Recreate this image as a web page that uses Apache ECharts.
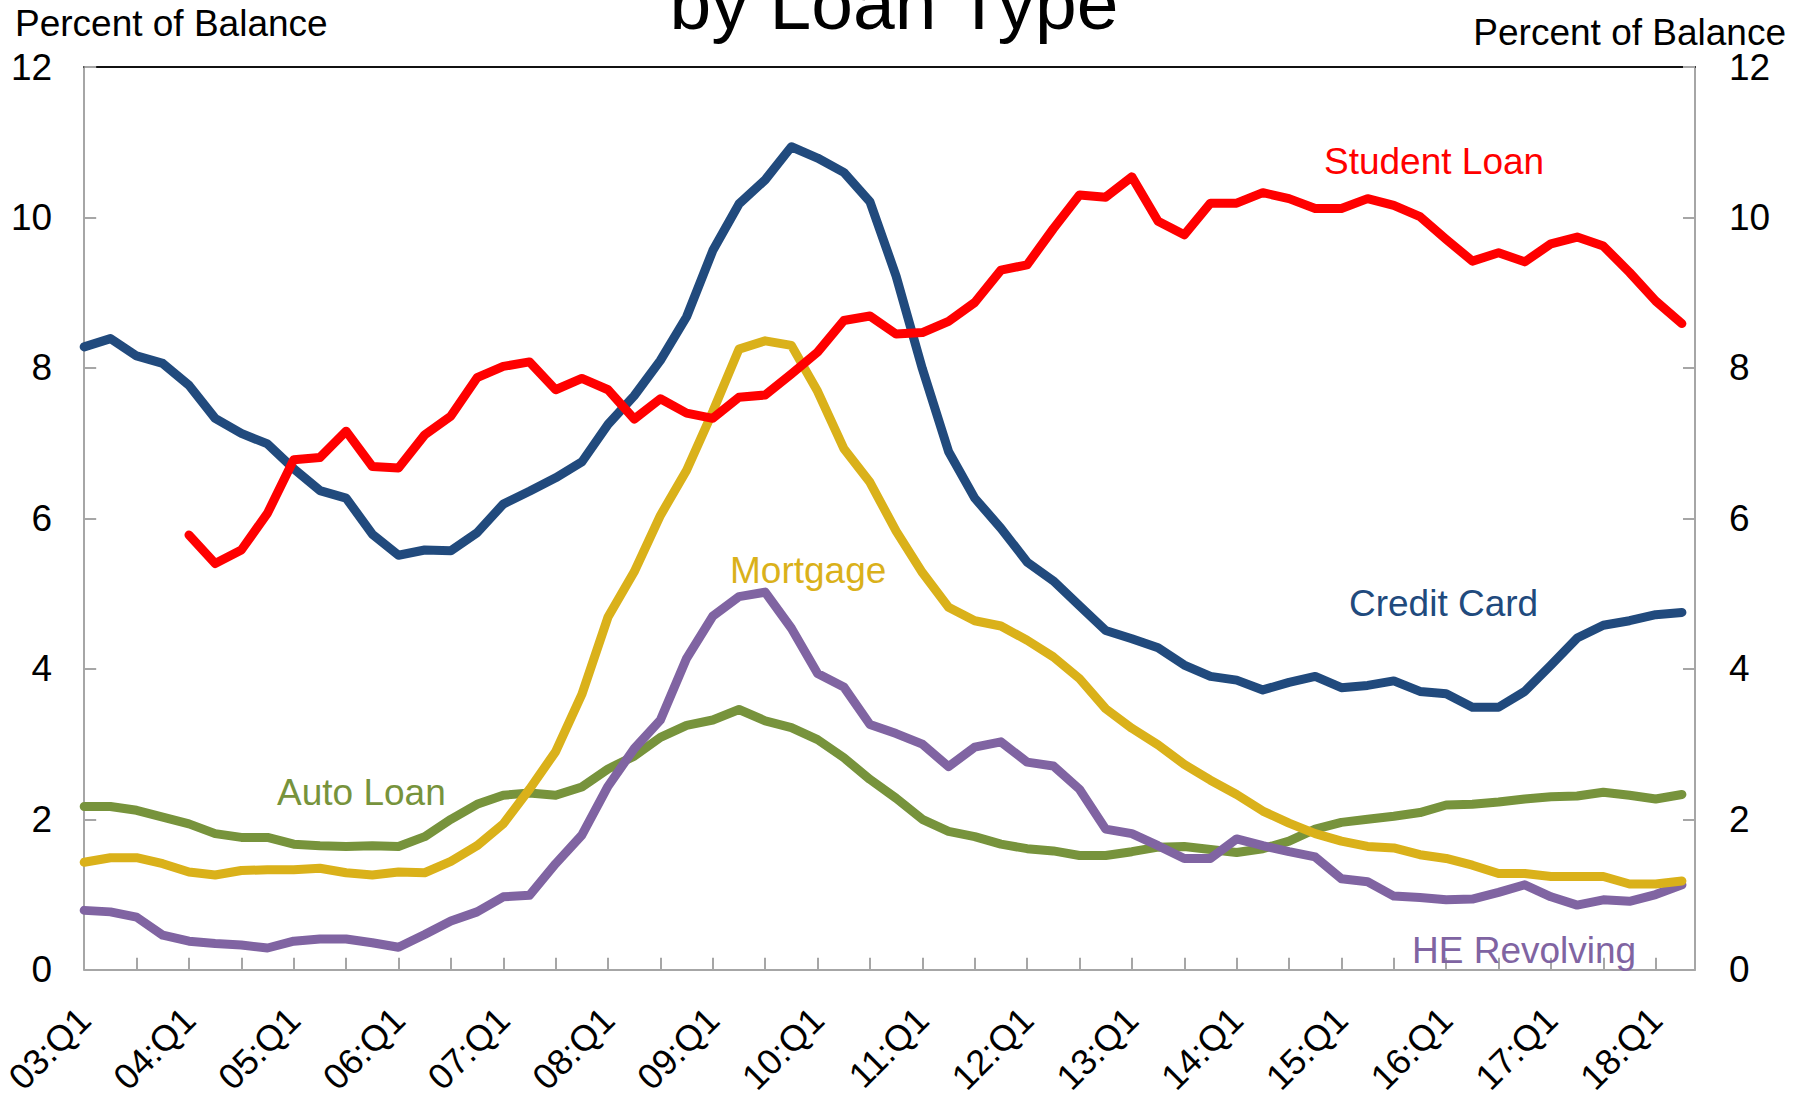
<!DOCTYPE html>
<html>
<head>
<meta charset="utf-8">
<script src="https://cdn.jsdelivr.net/npm/echarts@6/dist/echarts.min.js"></script>
<style>
  html, body { margin: 0; padding: 0; background: #fff; }
  #chart { width: 1807px; height: 1098px; }
</style>
</head>
<body>
<div id="chart"></div>
<script>
// tick labels, one every 4 quarters (03:Q1 .. 18:Q1)
const tickLabels = ['03:Q1','04:Q1','05:Q1','06:Q1','07:Q1','08:Q1','09:Q1','10:Q1',
  '11:Q1','12:Q1','13:Q1','14:Q1','15:Q1','16:Q1','17:Q1','18:Q1']

// quarterly values, 03:Q1 .. 18:Q2 (62 quarters), percent of balance
const studentLoan = [null, null, null, null,
  5.78, 5.40, 5.58, 6.07, 6.78, 6.81, 7.16, 6.69, 6.67, 7.11, 7.36, 7.87, 8.02, 8.08,
  7.71, 7.86, 7.71, 7.32, 7.59, 7.40, 7.33, 7.61, 7.64, 7.92, 8.21, 8.63, 8.69, 8.45,
  8.47, 8.62, 8.87, 9.30, 9.37, 9.85, 10.30, 10.27, 10.54, 9.95, 9.77, 10.19, 10.19,
  10.33, 10.25, 10.12, 10.12, 10.25, 10.16, 10.01, 9.71, 9.42, 9.53, 9.41, 9.65, 9.74,
  9.62, 9.27, 8.89, 8.59]
const creditCard = [8.28, 8.39, 8.16, 8.06, 7.77, 7.33, 7.13, 6.99, 6.66, 6.37,
  6.27, 5.79, 5.51, 5.58, 5.57, 5.81, 6.19, 6.36, 6.54, 6.75,
  7.25, 7.63, 8.10, 8.68, 9.56, 10.18, 10.50, 10.94, 10.79, 10.60,
  10.21, 9.22, 7.99, 6.89, 6.27, 5.87, 5.42, 5.17, 4.84, 4.51,
  4.40, 4.28, 4.05, 3.90, 3.85, 3.72, 3.82, 3.90, 3.75, 3.78,
  3.84, 3.70, 3.67, 3.49, 3.49, 3.70, 4.05, 4.41, 4.58, 4.64, 4.72, 4.75]
const mortgage = [1.43, 1.49, 1.49, 1.41, 1.30, 1.26, 1.32, 1.33, 1.33, 1.35,
  1.29, 1.26, 1.30, 1.29, 1.44, 1.65, 1.94, 2.40, 2.90, 3.66,
  4.69, 5.29, 6.04, 6.64, 7.42, 8.25, 8.36, 8.30, 7.69, 6.93,
  6.48, 5.83, 5.28, 4.82, 4.64, 4.57, 4.38, 4.16, 3.87, 3.47,
  3.21, 2.99, 2.73, 2.52, 2.33, 2.11, 1.95, 1.81, 1.71, 1.64,
  1.62, 1.53, 1.48, 1.39, 1.28, 1.28, 1.24, 1.24, 1.24, 1.14, 1.14, 1.18]
const heRevolving = [0.79, 0.77, 0.70, 0.46, 0.38, 0.35, 0.33, 0.29, 0.38, 0.41,
  0.41, 0.36, 0.30, 0.47, 0.65, 0.77, 0.97, 0.99, 1.41, 1.79,
  2.44, 2.94, 3.32, 4.14, 4.70, 4.96, 5.02, 4.54, 3.94, 3.76,
  3.26, 3.14, 3.00, 2.70, 2.96, 3.03, 2.76, 2.71, 2.40, 1.87,
  1.81, 1.65, 1.48, 1.48, 1.74, 1.65, 1.57, 1.50, 1.21, 1.17,
  0.98, 0.96, 0.93, 0.94, 1.03, 1.13, 0.97, 0.86, 0.93, 0.91, 1.00, 1.13]
const autoLoan = [2.17, 2.17, 2.12, 2.03, 1.94, 1.81, 1.76, 1.76, 1.67, 1.65,
  1.64, 1.65, 1.64, 1.77, 2.00, 2.20, 2.32, 2.35, 2.32, 2.43,
  2.67, 2.84, 3.09, 3.25, 3.32, 3.46, 3.31, 3.22, 3.06, 2.82,
  2.53, 2.28, 2.00, 1.84, 1.77, 1.67, 1.61, 1.58, 1.52, 1.52,
  1.57, 1.63, 1.64, 1.60, 1.56, 1.61, 1.71, 1.87, 1.96, 2.00,
  2.04, 2.09, 2.19, 2.20, 2.23, 2.27, 2.30, 2.31, 2.36, 2.32, 2.27, 2.33]

const FONT = '"Liberation Sans", Arial, sans-serif'
const AXIS_GREY = '#a6a6a6'

const chart = echarts.init(document.getElementById('chart'), null, { renderer: 'svg' })

const toPoints = arr => arr.map((v, i) => [i, v])

const makeLine = (name, arr, color) => ({
  name,
  type: 'line',
  data: toPoints(arr),
  showSymbol: false,
  connectNulls: false,
  lineStyle: { color, width: 9, join: 'round', cap: 'round' },
  itemStyle: { color },
  z: 3
})

// text labels drawn next to the lines
const seriesText = (text, x, y, color) => ({
  type: 'text',
  x, y,
  style: { text, fill: color, font: '37px ' + FONT, align: 'left', verticalAlign: 'middle' },
  z: 10
})

const yAxisBase = {
  type: 'value',
  min: 0,
  max: 12,
  interval: 2,
  axisLine: { show: true, onZero: false, lineStyle: { color: AXIS_GREY, width: 2 } },
  axisTick: { show: true, inside: true, length: 12, lineStyle: { color: AXIS_GREY, width: 2 } },
  splitLine: { show: false }
}

const option = {
  animation: false,
  backgroundColor: '#fff',
  grid: { left: 82, right: 112, top: 67, bottom: 119 },
  xAxis: [{
    type: 'value',
    min: 0,
    max: 61.5,
    interval: 2,
    axisLine: { onZero: false, lineStyle: { color: AXIS_GREY, width: 2 } },
    axisTick: { inside: true, length: 12, lineStyle: { color: AXIS_GREY, width: 2 } },
    splitLine: { show: false },
    axisLabel: {
      rotate: 45,
      margin: 44,
      color: '#000',
      fontSize: 36,
      fontFamily: FONT,
      showMaxLabel: false,
      formatter: v => (v % 4 === 0 ? (tickLabels[v / 4] || '') : '')
    }
  }, {
    type: 'value',
    position: 'top',
    min: 0,
    max: 61.5,
    axisLine: { onZero: false, lineStyle: { color: '#111', width: 2 } },
    axisTick: { show: false },
    axisLabel: { show: false },
    splitLine: { show: false }
  }],
  yAxis: [
    Object.assign({}, yAxisBase, {
      position: 'left',
      axisLabel: { margin: 32, color: '#000', fontSize: 37, fontFamily: FONT }
    }),
    Object.assign({}, yAxisBase, {
      position: 'right',
      axisLabel: { margin: 34, color: '#000', fontSize: 37, fontFamily: FONT }
    })
  ],
  graphic: [
    { type: 'text', x: 894, y: 3,
      style: { text: 'by Loan Type', fill: '#000', font: '75px ' + FONT, align: 'center', verticalAlign: 'middle' } },
    { type: 'text', x: 15, y: 23,
      style: { text: 'Percent of Balance', fill: '#000', font: '37px ' + FONT, align: 'left', verticalAlign: 'middle' } },
    { type: 'text', x: 1786, y: 32,
      style: { text: 'Percent of Balance', fill: '#000', font: '37px ' + FONT, align: 'right', verticalAlign: 'middle' } },
    seriesText('Student Loan', 1324, 161, '#ff0000'),
    seriesText('Credit Card', 1349, 603, '#214a7d'),
    seriesText('Mortgage', 730, 570, '#dab11a'),
    seriesText('Auto Loan', 277, 792, '#77933c'),
    seriesText('HE Revolving', 1412, 950, '#8064a2')
  ],
  series: [
    makeLine('Auto Loan', autoLoan, '#77933c'),
    makeLine('HE Revolving', heRevolving, '#8064a2'),
    makeLine('Mortgage', mortgage, '#dab11a'),
    makeLine('Credit Card', creditCard, '#214a7d'),
    makeLine('Student Loan', studentLoan, '#ff0000')
  ]
}

chart.setOption(option)
</script>
</body>
</html>
